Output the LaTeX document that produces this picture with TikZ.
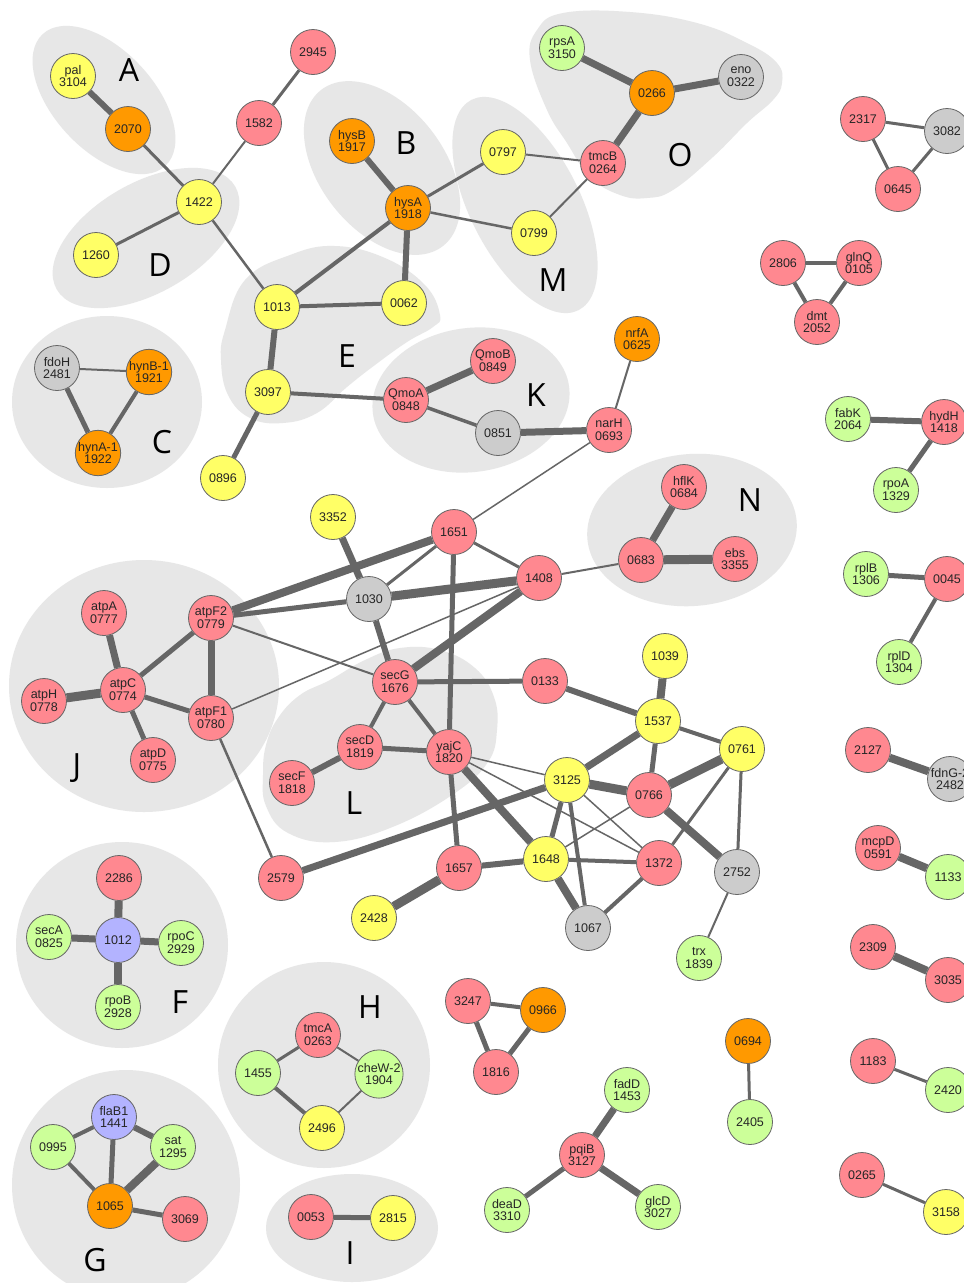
\documentclass[tikz,border=0pt]{standalone}
\usepackage{fontspec}
\newfontfamily\nodefont{Liberation Sans}
\newfontfamily\letterfont{Open Sans}
\definecolor{cYe}{RGB}{255,255,102}
\definecolor{cOr}{RGB}{255,153,0}
\definecolor{cPk}{RGB}{255,136,144}
\definecolor{cGy}{RGB}{204,204,204}
\definecolor{cGr}{RGB}{204,255,153}
\definecolor{cLv}{RGB}{179,179,255}
\definecolor{cBlob}{RGB}{231,231,231}
\definecolor{cEdge}{RGB}{102,102,102}
\pgfdeclarelayer{blobs}
\pgfdeclarelayer{edges}
\pgfsetlayers{blobs,edges,main}
\tikzset{
  nd/.style={circle, draw=cEdge, line width=0.6pt, minimum size=33.75pt, inner sep=0pt,
    align=center, font=\nodefont\fontsize{9.4}{9.6}\selectfont, text=black!85},
  ye/.style={nd, fill=cYe},
  or/.style={nd, fill=cOr},
  pk/.style={nd, fill=cPk},
  gy/.style={nd, fill=cGy},
  gr/.style={nd, fill=cGr},
  lv/.style={nd, fill=cLv},
  ed/.style={draw=cEdge, line width=#1*0.75pt},
  blob/.style={fill=cBlob},
  lbl/.style={font=\letterfont\fontsize{24}{24}\selectfont, inner sep=0pt}
}
\begin{document}
\begin{tikzpicture}[x=0.75pt,y=-0.75pt]
\useasboundingbox (0,0) rectangle (964,1283);
% ---------------- blobs
\begin{pgfonlayer}{blobs}
\fill[white] (0,0) rectangle (964,1283);
\fill[blob, rotate around={-47:(104,100)}] (104,100) ellipse [x radius=90, y radius=50];
\fill[blob, rotate around={30:(146,238)}] (146,238) ellipse [x radius=103, y radius=55];
\fill[blob, rotate around={-52:(382,168)}] (382,168) ellipse [x radius=99, y radius=62];
\fill[blob] (107,402) ellipse [x radius=95, y radius=86];
\fill[blob] plot[smooth cycle, tension=0.7] coordinates {(225,330) (245,280) (290,255) (335,246) (385,258) (425,285) (440,315) (433,327) (407,342) (375,365) (347,387) (317,413) (283,423) (250,418) (228,395) (221,360)};
\fill[blob, rotate around={8:(471,400)}] (471,400) ellipse [x radius=99, y radius=72];
\fill[blob, rotate around={-63:(525,205)}] (525,205) ellipse [x radius=118, y radius=55];
\fill[blob] plot[smooth cycle, tension=0.7] coordinates {(530,60) (547,110) (567,143) (590,177) (620,195) (647,198) (673,190) (713,157) (747,123) (773,100) (782,83) (777,63) (747,43) (697,23) (630,12) (563,13) (537,30)};
\fill[blob, rotate around={5:(692,530)}] (692,530) ellipse [x radius=105, y radius=76];
\fill[blob] (144,686) ellipse [x radius=135, y radius=126];
\fill[blob] plot[smooth cycle, tension=0.7] coordinates {(263,775) (266,745) (278,718) (300,695) (330,680) (365,660) (400,648) (440,650) (475,668) (494,697) (497,730) (488,762) (455,793) (395,826) (335,842) (288,833) (266,806)};
\fill[blob] (122,945) ellipse [x radius=106, y radius=103];
\fill[blob] (126,1185) ellipse [x radius=114, y radius=115];
\fill[blob] (324,1065) ellipse [x radius=106, y radius=103];
\fill[blob] (352,1228) ellipse [x radius=86, y radius=54];
\end{pgfonlayer}
% ---------------- group letters
\node[lbl] (lA) at (129,70) {A};
\node[lbl] (lB) at (406,143) {B};
\node[lbl] (lC) at (162,442) {C};
\node[lbl] (lD) at (160,265) {D};
\node[lbl] (lE) at (347,356) {E};
\node[lbl] (lK) at (536,395) {K};
\node[lbl] (lM) at (553,280) {M};
\node[lbl] (lO) at (680,155) {O};
\node[lbl] (lN) at (750,500) {N};
\node[lbl] (lJ) at (77,768) {J};
\node[lbl] (lL) at (354,803) {L};
\node[lbl] (lF) at (180,1002) {F};
\node[lbl] (lG) at (95,1260) {G};
\node[lbl] (lH) at (370,1007) {H};
\node[lbl] (lI) at (350,1253) {I};
% ---------------- nodes
\node[ye] (pal) at (73,76) {pal\\3104};
\node[or] (n2070) at (128,129) {2070};
\node[ye] (n1422) at (199,202) {1422};
\node[pk] (n1582) at (259,123) {1582};
\node[pk] (n2945) at (313,52) {2945};
\node[ye] (n1260) at (96,255) {1260};
\node[or] (hysB) at (352,141) {hysB\\1917};
\node[or] (hysA) at (408,208) {hysA\\1918};
\node[ye] (n0797) at (503,152) {0797};
\node[ye] (n0799) at (534,233) {0799};
\node[gr] (rpsA) at (562,48) {rpsA\\3150};
\node[or] (n0266) at (652,93) {0266};
\node[gy] (eno) at (741,77) {eno\\0322};
\node[pk] (tmcB) at (603,163) {tmcB\\0264};
\node[pk] (n2317) at (863,119) {2317};
\node[gy] (n3082) at (947,131) {3082};
\node[pk] (n0645) at (898,189) {0645};
\node[ye] (n1013) at (277,307) {1013};
\node[ye] (n0062) at (404,303) {0062};
\node[ye] (n3097) at (268,392) {3097};
\node[ye] (n0896) at (223,478) {0896};
\node[gy] (fdoH) at (57,368) {fdoH\\2481};
\node[or] (hynB) at (149,372) {hynB-1\\1921};
\node[or] (hynA) at (98,453) {hynA-1\\1922};
\node[pk] (QmoB) at (493,361) {QmoB\\0849};
\node[pk] (QmoA) at (406,400) {QmoA\\0848};
\node[gy] (n0851) at (498,433) {0851};
\node[or] (nrfA) at (637,339) {nrfA\\0625};
\node[pk] (narH) at (609,430) {narH\\0693};
\node[pk] (hflK) at (684,487) {hflK\\0684};
\node[pk] (n0683) at (641,560) {0683};
\node[pk] (ebs) at (735,559) {ebs\\3355};
\node[pk] (n2806) at (783,263) {2806};
\node[pk] (glnQ) at (859,263) {glnQ\\0105};
\node[pk] (dmt) at (817,322) {dmt\\2052};
\node[gr] (fabK) at (848,419) {fabK\\2064};
\node[pk] (hydH) at (944,422) {hydH\\1418};
\node[gr] (rpoA) at (896,490) {rpoA\\1329};
\node[gr] (rplB) at (866,574) {rplB\\1306};
\node[pk] (n0045) at (947,579) {0045};
\node[gr] (rplD) at (899,662) {rplD\\1304};
\node[pk] (n2127) at (868,750) {2127};
\node[gy] (fdnG) at (950,779) {fdnG-2\\2482};
\node[pk] (mcpD) at (878,848) {mcpD\\0591};
\node[gr] (n1133) at (948,877) {1133};
\node[pk] (n2309) at (873,947) {2309};
\node[pk] (n3035) at (948,980) {3035};
\node[pk] (n1183) at (873,1061) {1183};
\node[gr] (n2420) at (948,1090) {2420};
\node[pk] (n0265) at (862,1175) {0265};
\node[ye] (n3158) at (946,1212) {3158};
% central cluster
\node[ye] (n3352) at (333,517) {3352};
\node[pk] (n1651) at (454,532) {1651};
\node[pk] (n1408) at (539,578) {1408};
\node[gy] (n1030) at (369,599) {1030};
\node[pk] (atpA) at (104,613) {atpA\\0777};
\node[pk] (atpF2) at (211,618) {atpF2\\0779};
\node[pk] (atpC) at (123,690) {atpC\\0774};
\node[pk] (atpH) at (44,701) {atpH\\0778};
\node[pk] (atpF1) at (211,718) {atpF1\\0780};
\node[pk] (atpD) at (153,760) {atpD\\0775};
\node[pk] (secG) at (395,682) {secG\\1676};
\node[pk] (secD) at (360,747) {secD\\1819};
\node[pk] (secF) at (292,783) {secF\\1818};
\node[pk] (yajC) at (449,752) {yajC\\1820};
\node[pk] (n0133) at (545,681) {0133};
\node[ye] (n1039) at (665,656) {1039};
\node[ye] (n1537) at (658,721) {1537};
\node[ye] (n0761) at (742,749) {0761};
\node[ye] (n3125) at (567,780) {3125};
\node[pk] (n0766) at (649,795) {0766};
\node[ye] (n1648) at (546,859) {1648};
\node[pk] (n1372) at (659,863) {1372};
\node[gy] (n2752) at (737,872) {2752};
\node[pk] (n1657) at (459,868) {1657};
\node[pk] (n2579) at (281,878) {2579};
\node[ye] (n2428) at (374,918) {2428};
\node[gy] (n1067) at (588,928) {1067};
\node[gr] (trx) at (699,958) {trx\\1839};
% bottom
\node[pk] (n2286) at (119,878) {2286};
\node[lv] (n1012) at (118,940) {1012};
\node[gr] (secA) at (49,937) {secA\\0825};
\node[gr] (rpoC) at (181,943) {rpoC\\2929};
\node[gr] (rpoB) at (118,1007) {rpoB\\2928};
\node[lv] (flaB1) at (114,1117) {flaB1\\1441};
\node[gr] (n0995) at (53,1147) {0995};
\node[gr] (sat) at (173,1147) {sat\\1295};
\node[or] (n1065) at (110,1206) {1065};
\node[pk] (n3069) at (185,1219) {3069};
\node[pk] (tmcA) at (318,1035) {tmcA\\0263};
\node[gr] (n1455) at (258,1073) {1455};
\node[gr] (cheW) at (379,1074) {cheW-2\\1904};
\node[ye] (n2496) at (322,1128) {2496};
\node[pk] (n0053) at (311,1217) {0053};
\node[ye] (n2815) at (393,1218) {2815};
\node[pk] (n3247) at (468,1001) {3247};
\node[or] (n0966) at (543,1010) {0966};
\node[pk] (n1816) at (496,1072) {1816};
\node[gr] (fadD) at (627,1090) {fadD\\1453};
\node[pk] (pqiB) at (582,1155) {pqiB\\3127};
\node[gr] (deaD) at (507,1210) {deaD\\3310};
\node[gr] (glcD) at (658,1207) {glcD\\3027};
\node[or] (n0694) at (748,1041) {0694};
\node[gr] (n2405) at (750,1122) {2405};
% ---------------- edges
\begin{pgfonlayer}{edges}
\draw[ed=6] (pal) -- (n2070);
\draw[ed=3] (n2070) -- (n1422);
\draw[ed=2] (n1422) -- (n1582);
\draw[ed=3] (n1582) -- (n2945);
\draw[ed=3] (n1422) -- (n1260);
\draw[ed=2.5] (n1422) -- (n1013);
\draw[ed=6] (hysB) -- (hysA);
\draw[ed=4] (hysA) -- (n1013);
\draw[ed=6] (hysA) -- (n0062);
\draw[ed=3] (hysA) -- (n0797);
\draw[ed=2.5] (hysA) -- (n0799);
\draw[ed=4] (n1013) -- (n0062);
\draw[ed=6] (n1013) -- (n3097);
\draw[ed=5] (n3097) -- (n0896);
\draw[ed=4] (n3097) -- (QmoA);
\draw[ed=2] (n0797) -- (tmcB);
\draw[ed=2] (n0799) -- (tmcB);
\draw[ed=7] (tmcB) -- (n0266);
\draw[ed=7] (n0266) -- (rpsA);
\draw[ed=7] (n0266) -- (eno);
\draw[ed=7] (QmoA) -- (QmoB);
\draw[ed=3.5] (QmoA) -- (n0851);
\draw[ed=7] (n0851) -- (narH);
\draw[ed=2] (narH) -- (nrfA);
\draw[ed=1.5] (narH) -- (n1651);
\draw[ed=7] (n0683) -- (hflK);
\draw[ed=9] (n0683) -- (ebs);
\draw[ed=2] (n0683) -- (n1408);
\draw[ed=2] (fdoH) -- (hynB);
\draw[ed=5] (fdoH) -- (hynA);
\draw[ed=4] (hynB) -- (hynA);
\draw[ed=3] (n2317) -- (n3082);
\draw[ed=3] (n2317) -- (n0645);
\draw[ed=3] (n3082) -- (n0645);
\draw[ed=4] (n2806) -- (glnQ);
\draw[ed=4] (n2806) -- (dmt);
\draw[ed=4] (glnQ) -- (dmt);
\draw[ed=6] (fabK) -- (hydH);
\draw[ed=5] (hydH) -- (rpoA);
\draw[ed=5] (rplB) -- (n0045);
\draw[ed=4] (n0045) -- (rplD);
\draw[ed=8] (n2127) -- (fdnG);
\draw[ed=8] (mcpD) -- (n1133);
\draw[ed=8] (n2309) -- (n3035);
\draw[ed=3] (n1183) -- (n2420);
\draw[ed=3] (n0265) -- (n3158);
% central
\draw[ed=7] (n3352) -- (n1030);
\draw[ed=3] (n1030) -- (n1651);
\draw[ed=9] (n1030) -- (n1408);
\draw[ed=5] (n1030) -- (atpF2);
\draw[ed=6] (n1030) -- (secG);
\draw[ed=8] (atpF2) -- (n1651);
\draw[ed=2] (atpF2) -- (secG);
\draw[ed=3] (n1651) -- (n1408);
\draw[ed=5] (n1651) -- (yajC);
\draw[ed=4] (secG) -- (secD);
\draw[ed=4] (secG) -- (yajC);
\draw[ed=5] (secG) -- (n0133);
\draw[ed=8] (secG) -- (n1408);
\draw[ed=6] (secD) -- (secF);
\draw[ed=5] (secD) -- (yajC);
\draw[ed=5] (yajC) -- (n1657);
\draw[ed=8] (yajC) -- (n1648);
\draw[ed=1.5] (yajC) -- (n3125);
\draw[ed=1.5] (yajC) -- (n1372);
\draw[ed=1.5] (n3125) -- (n1372);
\draw[ed=1.5] (n0766) -- (n1648);
\draw[ed=6] (n0133) -- (n1537);
\draw[ed=8] (n1039) -- (n1537);
\draw[ed=4] (n1537) -- (n0761);
\draw[ed=7] (n1537) -- (n3125);
\draw[ed=5] (n1537) -- (n0766);
\draw[ed=9] (n0761) -- (n0766);
\draw[ed=3] (n0761) -- (n1372);
\draw[ed=3] (n0761) -- (n2752);
\draw[ed=9] (n3125) -- (n0766);
\draw[ed=5] (n3125) -- (n1648);
\draw[ed=4] (n3125) -- (n1067);
\draw[ed=7] (n3125) -- (n2579);
\draw[ed=8] (n0766) -- (n2752);
\draw[ed=6] (n1648) -- (n1657);
\draw[ed=4] (n1648) -- (n1372);
\draw[ed=8] (n1648) -- (n1067);
\draw[ed=4] (n1372) -- (n1067);
\draw[ed=9] (n1657) -- (n2428);
\draw[ed=2] (n2752) -- (trx);
\draw[ed=2.5] (atpF1) -- (n2579);
\draw[ed=7] (atpA) -- (atpC);
\draw[ed=9] (atpH) -- (atpC);
\draw[ed=5] (atpC) -- (atpD);
\draw[ed=5] (atpC) -- (atpF2);
\draw[ed=5] (atpC) -- (atpF1);
\draw[ed=7] (atpF2) -- (atpF1);
\draw[ed=1.5] (atpF1) -- (n1408);
% bottom
\draw[ed=8] (n2286) -- (n1012);
\draw[ed=7] (secA) -- (n1012);
\draw[ed=7] (n1012) -- (rpoC);
\draw[ed=8] (n1012) -- (rpoB);
\draw[ed=4] (flaB1) -- (n0995);
\draw[ed=5] (flaB1) -- (n1065);
\draw[ed=6] (flaB1) -- (sat);
\draw[ed=4] (n0995) -- (n1065);
\draw[ed=8] (sat) -- (n1065);
\draw[ed=5] (n1065) -- (n3069);
\draw[ed=3] (tmcA) -- (n1455);
\draw[ed=2] (tmcA) -- (cheW);
\draw[ed=4] (n1455) -- (n2496);
\draw[ed=2] (cheW) -- (n2496);
\draw[ed=5] (n0053) -- (n2815);
\draw[ed=4] (n3247) -- (n0966);
\draw[ed=5] (n3247) -- (n1816);
\draw[ed=5] (n0966) -- (n1816);
\draw[ed=7] (pqiB) -- (fadD);
\draw[ed=5] (pqiB) -- (deaD);
\draw[ed=7] (pqiB) -- (glcD);
\draw[ed=3] (n0694) -- (n2405);
\end{pgfonlayer}
\end{tikzpicture}
\end{document}
